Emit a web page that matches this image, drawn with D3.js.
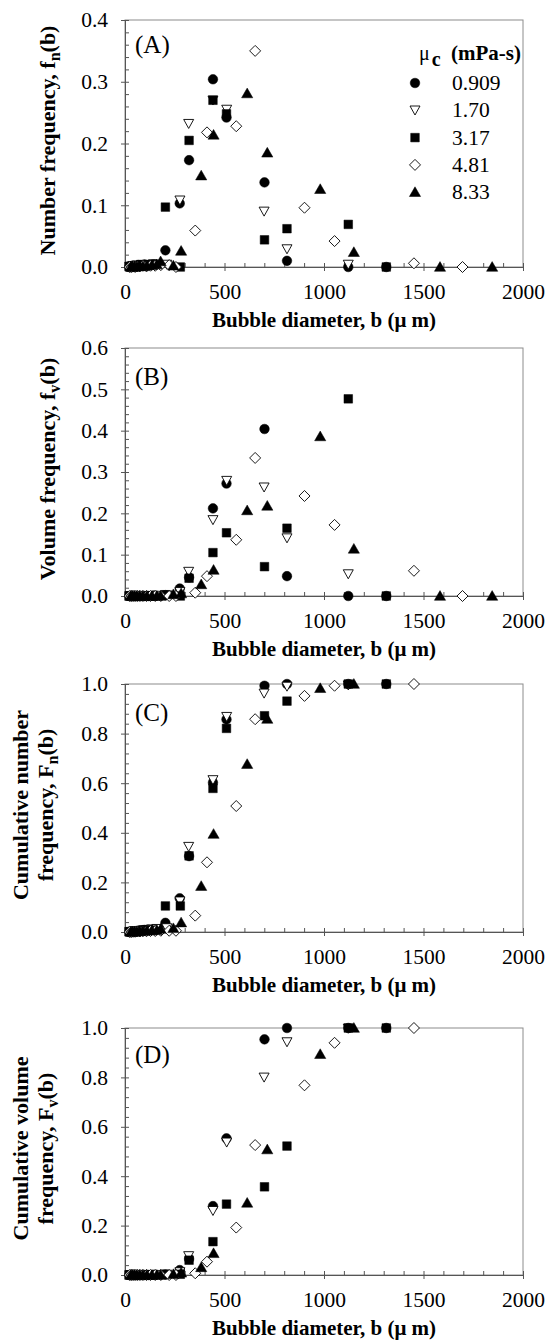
<!DOCTYPE html>
<html>
<head>
<meta charset="utf-8">
<script src="https://cdn.jsdelivr.net/npm/d3@7"></script>
<style>
  body { margin: 0; background: #fff; }
  svg { display: block; font-family: "Liberation Serif", "Times New Roman", serif; }
</style>
</head>
<body>
<svg width="547" height="1340"></svg>
<script>
// viscosity of continuous phase (mPa-s)
var viscosities = ["0.909", "1.70", "3.17", "4.81", "8.33"];

// 0.909 -- filled circle
var bCirc  = [22, 30, 38, 47, 57, 68, 82, 98, 118, 145, 203, 275, 322, 442, 510, 701, 814, 1122, 1313];
var fnCirc = [0, 0.001, 0, 0.002, 0.001, 0.003, 0.002, 0.004, 0.003, 0.004, 0.027, 0.103, 0.173, 0.304, 0.242, 0.137, 0.010, 0, 0];
var fvCirc = [0, 0, 0, 0, 0, 0, 0, 0, 0, 0.001, 0.002, 0.018, 0.045, 0.212, 0.272, 0.404, 0.048, 0, 0];
var FnCirc = [0, 0.001, 0.001, 0.002, 0.003, 0.005, 0.006, 0.008, 0.009, 0.010, 0.037, 0.136, 0.306, 0.602, 0.857, 0.993, 1.0, 1.0, 1.0];
var FvCirc = [0, 0, 0, 0, 0, 0, 0, 0, 0, 0.001, 0.002, 0.020, 0.065, 0.279, 0.553, 0.954, 1.0, 1.0, 1.0];

// 1.70 -- open down triangle
var bDown  = [25, 33, 42, 52, 63, 76, 92, 110, 133, 160, 210, 276, 320, 442, 511, 699, 814, 1122];
var fnDown = [0, 0.001, 0.001, 0.002, 0.001, 0.002, 0.003, 0.002, 0.003, 0.004, 0.004, 0.108, 0.232, 0.270, 0.255, 0.090, 0.029, 0.004];
var fvDown = [0, 0, 0, 0, 0, 0, 0, 0, 0, 0.001, 0.002, 0.010, 0.059, 0.184, 0.279, 0.263, 0.140, 0.053];
var FnDown = [0, 0.001, 0.002, 0.003, 0.004, 0.005, 0.007, 0.009, 0.011, 0.013, 0.016, 0.124, 0.344, 0.613, 0.868, 0.962, 0.990, 0.995];
var FvDown = [0, 0, 0, 0, 0, 0, 0, 0, 0, 0.001, 0.002, 0.012, 0.077, 0.260, 0.537, 0.800, 0.943, 0.998];

// 3.17 -- filled square
var bSq  = [20, 28, 36, 45, 55, 66, 80, 96, 115, 140, 203, 278, 322, 442, 510, 701, 814, 1122, 1313];
var fnSq = [0.001, 0, 0.002, 0.001, 0.003, 0.002, 0.004, 0.003, 0.004, 0.005, 0.097, 0, 0.205, 0.270, 0.248, 0.044, 0.062, 0.069, 0];
var fvSq = [0, 0, 0, 0, 0, 0, 0, 0, 0, 0, 0.003, 0, 0.043, 0.105, 0.153, 0.071, 0.164, 0.477, 0];
var FnSq = [0.001, 0.001, 0.002, 0.003, 0.004, 0.005, 0.006, 0.007, 0.008, 0.008, 0.105, 0.105, 0.307, 0.579, 0.821, 0.872, 0.931, 1.0, 1.0];
var FvSq = [0, 0, 0, 0, 0, 0, 0, 0, 0, 0, 0.003, 0.003, 0.060, 0.135, 0.287, 0.357, 0.522, 1.0, 1.0];

// 4.81 -- open diamond
var bDia  = [24, 32, 41, 51, 62, 75, 90, 108, 128, 152, 180, 222, 256, 353, 412, 559, 654, 902, 1053, 1452, 1696];
var fnDia = [0, 0, 0.001, 0, 0.001, 0.001, 0.002, 0.001, 0.002, 0.002, 0.003, 0.003, 0, 0.059, 0.218, 0.228, 0.350, 0.096, 0.042, 0.006, 0];
var fvDia = [0, 0, 0, 0, 0, 0, 0, 0, 0, 0, 0, 0, 0, 0.008, 0.048, 0.136, 0.334, 0.242, 0.172, 0.061, 0];
var FnDia = [0, 0, 0.001, 0.001, 0.002, 0.002, 0.003, 0.003, 0.004, 0.004, 0.005, 0.005, 0.005, 0.066, 0.281, 0.508, 0.858, 0.952, 0.993, 1.0, null];
var FvDia = [0, 0, 0, 0, 0, 0, 0, 0, 0, 0, 0, 0, 0, 0.007, 0.054, 0.192, 0.526, 0.768, 0.940, 1.0, null];

// 8.33 -- filled up triangle
var bUp  = [30, 38, 48, 60, 74, 90, 110, 135, 160, 179, 243, 282, 383, 445, 614, 715, 981, 1150, 1583, 1845];
var fnUp = [0, 0.001, 0, 0.001, 0.002, 0.001, 0.002, 0.003, 0.004, 0.009, 0.002, 0.026, 0.148, 0.214, 0.281, 0.185, 0.126, 0.024, 0, 0];
var fvUp = [0, 0, 0, 0, 0, 0, 0, 0, 0, 0, 0.004, 0.006, 0.028, 0.063, 0.207, 0.218, 0.386, 0.114, 0, 0];
var FnUp = [0, 0.001, 0.001, 0.002, 0.003, 0.004, 0.005, 0.006, 0.007, 0.012, 0.015, 0.038, 0.185, 0.395, 0.677, 0.859, 0.983, 1.0, null, null];
var FvUp = [0, 0, 0, 0, 0, 0, 0, 0, 0, 0, 0.003, 0.009, 0.031, 0.088, 0.292, 0.508, 0.894, 1.0, null, null];

var xTicks = [0, 500, 1000, 1500, 2000];

// ---- marker shapes ----
var shapes = {
  circle: { draw: function(c) { c.moveTo(4.8, 0); c.arc(0, 0, 4.8, 0, 2 * Math.PI); } },
  down:   { draw: function(c) { c.moveTo(-5, -4.3); c.lineTo(5, -4.3); c.lineTo(0, 4.7); c.closePath(); } },
  square: { draw: function(c) { c.rect(-4.3, -4.3, 8.6, 8.6); } },
  diamond:{ draw: function(c) { c.moveTo(0, -5.5); c.lineTo(5.5, 0); c.lineTo(0, 5.5); c.lineTo(-5.5, 0); c.closePath(); } },
  up:     { draw: function(c) { c.moveTo(0, -5.4); c.lineTo(5.6, 4.3); c.lineTo(-5.6, 4.3); c.closePath(); } }
};

var series = [
  { name: viscosities[0], shape: "circle",  open: false, b: bCirc, fn: fnCirc, fv: fvCirc, Fn: FnCirc, Fv: FvCirc },
  { name: viscosities[1], shape: "down",    open: true,  b: bDown, fn: fnDown, fv: fvDown, Fn: FnDown, Fv: FvDown },
  { name: viscosities[2], shape: "square",  open: false, b: bSq,   fn: fnSq,   fv: fvSq,   Fn: FnSq,   Fv: FvSq },
  { name: viscosities[3], shape: "diamond", open: true,  b: bDia,  fn: fnDia,  fv: fvDia,  Fn: FnDia,  Fv: FvDia },
  { name: viscosities[4], shape: "up",      open: false, b: bUp,   fn: fnUp,   fv: fvUp,   Fn: FnUp,   Fv: FvUp }
];

var left = 125, right = 523;

var panels = [
  { key: "fn", top: 20,   bottom: 267,  ymax: 0.4, major: 0.1, minor: 0.02, tag: "(A)", tagY: 53,
    title: [["Number frequency, f", "n", "(b)"]], legend: true },
  { key: "fv", top: 348,  bottom: 596,  ymax: 0.6, major: 0.1, minor: 0.02, tag: "(B)", tagY: 385,
    title: [["Volume frequency, f", "v", "(b)"]] },
  { key: "Fn", top: 684,  bottom: 932,  ymax: 1.0, major: 0.2, minor: 0.04, tag: "(C)", tagY: 721,
    title: [["Cumulative number"], ["frequency, F", "n", "(b)"]] },
  { key: "Fv", top: 1028, bottom: 1275, ymax: 1.0, major: 0.2, minor: 0.04, tag: "(D)", tagY: 1063,
    title: [["Cumulative volume"], ["frequency, F", "v", "(b)"]] }
];

var svg = d3.select("svg");

var x = d3.scaleLinear().domain([0, 2000]).range([left, right]);

function symbolPath(s) {
  return d3.symbol().type(shapes[s])();
}

panels.forEach(function(p) {
  var y = d3.scaleLinear().domain([0, p.ymax]).range([p.bottom, p.top]);
  var g = svg.append("g");

  var majors = d3.range(0, p.ymax + 1e-9, p.major);
  var minors = d3.range(0, p.ymax + 1e-9, p.minor);
  var xMinors = d3.range(0, 2001, 100);

  // frame
  g.append("rect")
    .attr("x", left).attr("y", p.top)
    .attr("width", right - left).attr("height", p.bottom - p.top)
    .attr("fill", "none").attr("stroke", "#8c8c8c").attr("stroke-width", 1);

  // minor ticks (inside)
  var yMinor = g.append("g")
    .attr("transform", `translate(${left},0)`)
    .call(d3.axisRight(y).tickValues(minors).tickSize(4).tickFormat(""));
  var xMinor = g.append("g")
    .attr("transform", `translate(0,${p.bottom})`)
    .call(d3.axisTop(x).tickValues(xMinors).tickSize(4).tickFormat(""));

  // major axes
  var yAxis = g.append("g")
    .attr("transform", `translate(${left},0)`)
    .call(d3.axisLeft(y).tickValues(majors).tickSize(4).tickPadding(13).tickFormat(d3.format(".1f")));
  var xAxis = g.append("g")
    .attr("transform", `translate(0,${p.bottom})`)
    .call(d3.axisBottom(x).tickValues(xTicks).tickSize(4).tickPadding(13).tickFormat(d3.format("d")));

  [yMinor, xMinor, yAxis, xAxis].forEach(function(a) {
    a.select(".domain").attr("stroke", "#555");
    a.selectAll(".tick line").attr("stroke", "#555");
    a.selectAll("text")
      .attr("fill", "#000")
      .style("font-family", "'Liberation Serif', serif")
      .style("font-size", "21.5px");
  });

  // x axis title
  g.append("text")
    .attr("x", (left + right) / 2)
    .attr("y", p.bottom + 60)
    .attr("text-anchor", "middle")
    .style("font-size", "21px")
    .style("font-weight", "bold")
    .text("Bubble diameter, b (\u03bc m)");

  // y axis title
  var cy = (p.top + p.bottom) / 2 - 3;
  var lines = p.title;
  lines.forEach(function(parts, i) {
    var bx = lines.length === 1 ? 55 : (i === 0 ? 28 : 53);
    var t = g.append("text")
      .attr("transform", `translate(${bx},${cy}) rotate(-90)`)
      .attr("text-anchor", "middle")
      .style("font-size", "22px")
      .style("font-weight", "bold");
    t.append("tspan").text(parts[0]);
    if (parts.length > 1) {
      t.append("tspan").attr("dy", 5).style("font-size", "16px").text(parts[1]);
      t.append("tspan").attr("dy", -5).text(parts[2]);
    }
  });

  // panel tag
  g.append("text")
    .attr("x", 135).attr("y", p.tagY)
    .style("font-size", "25px")
    .text(p.tag);

  // points
  series.forEach(function(s) {
    var vals = s[p.key];
    var pts = s.b.map(function(b, i) { return { b: b, v: vals[i] }; })
                 .filter(function(d) { return d.v !== null; });
    g.append("g").selectAll("path")
      .data(pts)
      .enter()
      .append("path")
      .attr("d", symbolPath(s.shape))
      .attr("transform", d => `translate(${x(d.b)},${y(d.v)})`)
      .attr("fill", s.open ? "#fff" : "#000")
      .attr("stroke", "#000")
      .attr("stroke-width", s.open ? 0.9 : 0.5);
  });

  // legend
  if (p.legend) {
    var lg = g.append("g");
    var lt = lg.append("text").attr("x", 419).attr("y", 60).style("font-size", "20px");
    lt.append("tspan").text("\u03bc");
    lt.append("tspan").attr("dx", 2).attr("dy", 6).style("font-weight", "bold").style("font-size", "20px").text("c");
    lg.append("text").attr("x", 451).attr("y", 60)
      .style("font-size", "21px").style("font-weight", "bold").text("(mPa-s)");

    series.forEach(function(s, i) {
      var ry = 83 + i * 27.3;
      lg.append("path")
        .attr("d", symbolPath(s.shape))
        .attr("transform", `translate(415,${ry})`)
        .attr("fill", s.open ? "#fff" : "#000")
        .attr("stroke", "#000")
        .attr("stroke-width", s.open ? 0.9 : 0.5);
      lg.append("text")
        .attr("x", 452).attr("y", ry + 7)
        .style("font-size", "21.5px")
        .text(s.name);
    });
  }
});
</script>
</body>
</html>
